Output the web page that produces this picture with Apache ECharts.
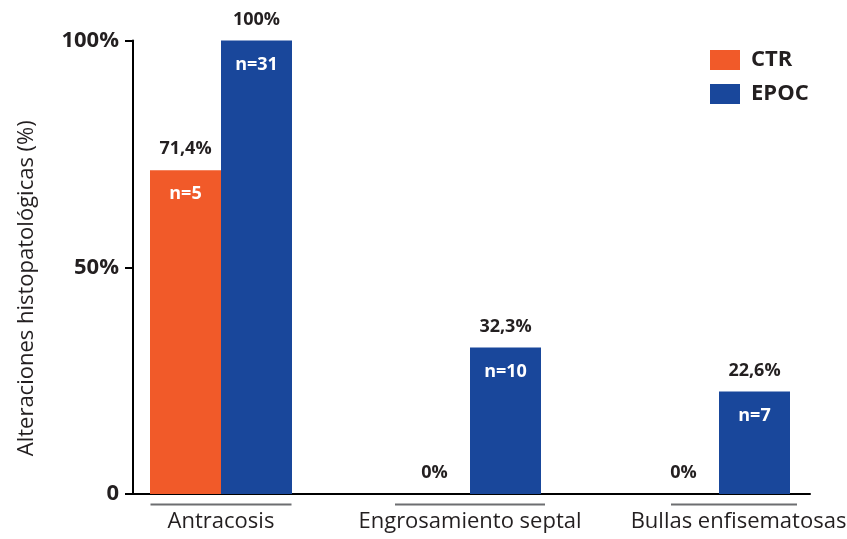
<!DOCTYPE html>
<html>
<head>
<meta charset="utf-8">
<script src="https://cdn.jsdelivr.net/npm/echarts@6/dist/echarts.min.js"></script>
<style>
  html, body { margin: 0; padding: 0; background: #fff; }
  #chart { width: 847px; height: 539px; }
</style>
</head>
<body>
<div id="chart"></div>
<script>
// Categories and values
const categories = ['Antracosis', 'Engrosamiento septal', 'Bullas enfisematosas'];
const seriesNames = ['CTR', 'EPOC'];
const ctrValues = [71.4, 0, 0];
const epocValues = [100, 32.3, 22.6];
const ctrCounts = [5, null, null];
const epocCounts = [31, 10, 7];
const yTickValues = [0, 50, 100];
const yTickLabels = ['0', '50%', '100%'];
const yTitle = 'Alteraciones histopatológicas (%)';

const FONT = "'Open Sans', 'Noto Sans', sans-serif";
const DARK = '#231f20';
const ORANGE = '#f15a29';
const BLUE = '#19479b';

function pct(v) {
  return String(v).replace('.', ',') + '%';
}

// Percentage above each bar, sample size inside the top of the bar
function barLabel(counts) {
  return {
    show: true,
    position: 'insideTop',
    distance: 0,
    offset: [0, -32],
    fontFamily: FONT,
    formatter: function (p) {
      const n = counts[p.dataIndex];
      let s = '{p|' + pct(p.value[1]) + '}';
      if (n !== null && n !== undefined) s += '\n{n|n=' + n + '}';
      return s;
    },
    rich: {
      p: { fontFamily: FONT, fontSize: 18, fontWeight: 'bold', color: DARK, lineHeight: 22 },
      n: { fontFamily: FONT, fontSize: 18, fontWeight: 'bold', color: '#ffffff', lineHeight: 68 }
    }
  };
}

const chart = echarts.init(document.getElementById('chart'), null, { renderer: 'canvas' });

const option = {
  backgroundColor: '#ffffff',
  animation: false,
  textStyle: { fontFamily: FONT },
  grid: { left: 133, right: 37, top: 40.5, bottom: 45, outerBoundsMode: 'none' },
  legend: {
    data: seriesNames,
    orient: 'vertical',
    left: 705,
    top: 44,
    itemWidth: 30,
    itemHeight: 20,
    itemGap: 12,
    icon: 'rect',
    textStyle: { fontFamily: FONT, fontSize: 22, fontWeight: 'bold', color: DARK, padding: [0, 0, 0, 6] }
  },
  xAxis: {
    type: 'value',
    min: 1 - 88 / 249,
    max: 3 + 91 / 249,
    splitLine: { show: false },
    axisTick: { show: false },
    axisLine: { show: true, onZero: true, lineStyle: { color: '#000', width: 2 } },
    axisLabel: {
      show: true,
      customValues: [1, 2, 3],
      margin: 9,
      formatter: function (v) {
        const i = Math.round(v) - 1;
        if (i === 2) return '{s3|}{l2| }\n{s4|}{t|' + categories[i] + '}';
        return '{l' + i + '| }\n{t|' + categories[i] + '}';
      },
      rich: {
        l0: { width: 141, height: 2, lineHeight: 3, fontSize: 1, backgroundColor: '#6d6e71' },
        l1: { width: 150, height: 2, lineHeight: 3, fontSize: 1, backgroundColor: '#6d6e71' },
        l2: { width: 126, height: 2, lineHeight: 3, fontSize: 1, backgroundColor: '#6d6e71' },
        s3: { width: 30, height: 2, lineHeight: 3, fontSize: 1 },
        s4: { width: 39, fontSize: 1 },
        t: { fontFamily: FONT, fontSize: 22, color: DARK, lineHeight: 32 }
      }
    }
  },
  yAxis: {
    type: 'value',
    min: 0,
    max: 100,
    interval: 50,
    name: yTitle,
    nameLocation: 'middle',
    nameGap: 95,
    nameRotate: 90,
    nameTextStyle: { fontFamily: FONT, fontSize: 22, color: DARK, padding: [0, 42, 0, 0] },
    splitLine: { show: false },
    axisLine: { show: true, lineStyle: { color: '#000', width: 2 } },
    axisTick: { show: true, length: 8, lineStyle: { color: '#000', width: 2 } },
    axisLabel: {
      margin: 14,
      fontFamily: FONT,
      fontSize: 22,
      fontWeight: 'bold',
      color: DARK,
      formatter: function (v) {
        const i = yTickValues.indexOf(v);
        return i >= 0 ? yTickLabels[i] : '';
      }
    }
  },
  series: [
    {
      name: seriesNames[0],
      type: 'bar',
      barWidth: 71,
      barGap: '0%',
      itemStyle: { color: ORANGE },
      label: barLabel(ctrCounts),
      data: ctrValues.map((v, i) => [i + 1, v])
    },
    {
      name: seriesNames[1],
      type: 'bar',
      barWidth: 71,
      barGap: '0%',
      itemStyle: { color: BLUE },
      label: barLabel(epocCounts),
      data: epocValues.map((v, i) => [i + 1, v])
    }
  ]
};

chart.setOption(option);
</script>
</body>
</html>
